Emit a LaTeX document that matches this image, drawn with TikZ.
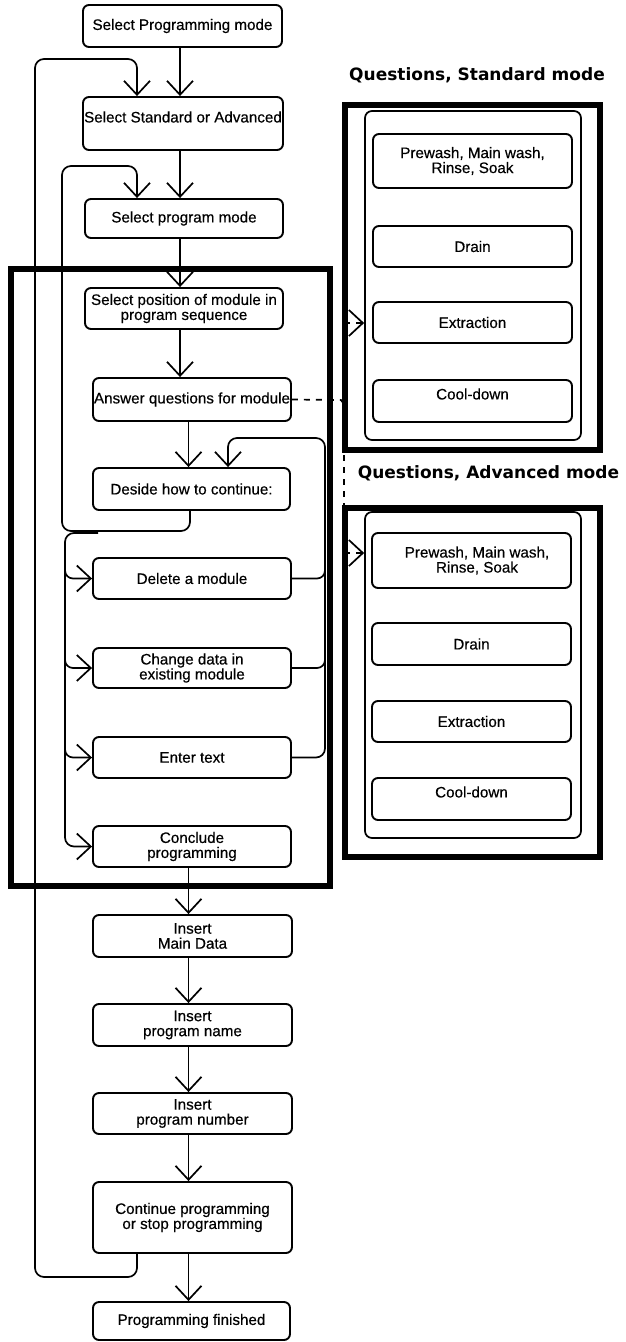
\documentclass[tikz,border=0pt]{standalone}
\usepackage{fontspec}
\setmainfont{Liberation Sans}
\newfontfamily\boxfont{Liberation Sans}[FakeBold=0.45]
\newfontfamily\titlefont{DejaVu Sans}
\usetikzlibrary{arrows.meta}
\begin{document}
\begin{tikzpicture}[x=1pt,y=-1pt,
  box/.style={draw, line width=1.9pt, rounded corners=6pt, align=center, inner sep=0pt, font=\boxfont\fontsize{15.2}{15}\selectfont},
  frame/.style={draw, line width=5.5pt, inner sep=0pt},
  innerbox/.style={draw, line width=1.7pt, rounded corners=7pt, inner sep=0pt},
  conn/.style={line width=1.7pt},
  arr/.style={conn, -{Straight Barb[length=14pt,width=26pt]}},
  dsh/.style={dash pattern=on 6pt off 6pt},
  ttl/.style={font=\titlefont\bfseries\fontsize{17}{20}\selectfont, inner sep=0pt},
  lbl/.style={align=center, inner sep=0pt, font=\boxfont\fontsize{15.2}{15}\selectfont}]
\fill[white] (0,0) rectangle (625,1342);
\useasboundingbox (0,0) rectangle (625,1342);

% big frame
\node[frame, minimum width=319pt, minimum height=617pt] (big) at (170.5,577.5) {};

% main column
\node[box, minimum width=199pt, minimum height=42pt] (b1) at (182.5,26) {Select Programming mode};
\node[box, minimum width=200pt, minimum height=53pt] (b2) at (183,123.5) {};
\node[lbl] (b2t) at (183,117) {Select Standard or Advanced};
\node[box, minimum width=198pt, minimum height=39pt] (b3) at (184,218.5) {Select program mode};
\node[box, minimum width=198pt, minimum height=41pt] (b4) at (184,308.5) {Select position of module in\\program sequence};
\node[box, minimum width=198pt, minimum height=43pt] (b5) at (192,399.5) {Answer questions for module};
\node[box, minimum width=197pt, minimum height=42pt] (b6) at (191.5,489) {Deside how to continue:};
\node[box, minimum width=198pt, minimum height=41pt] (b7) at (192,578.5) {Delete a module};
\node[box, minimum width=198pt, minimum height=40pt] (b8) at (192,668) {Change data in\\existing module};
\node[box, minimum width=198pt, minimum height=41pt] (b9) at (192,757.5) {Enter text};
\node[box, minimum width=198pt, minimum height=41pt] (b10) at (192,846.5) {Conclude\\programming};
\node[box, minimum width=199pt, minimum height=42pt] (b11) at (192.5,936) {Insert\\Main Data};
\node[box, minimum width=199pt, minimum height=42pt] (b12) at (192.5,1025) {Insert\\program name};
\node[box, minimum width=199pt, minimum height=41pt] (b13) at (192.5,1113.5) {Insert\\program number};
\node[box, minimum width=199pt, minimum height=71pt] (b14) at (192.5,1217.5) {Continue programming\\or stop programming};
\node[box, minimum width=197pt, minimum height=38pt] (b15) at (191.5,1321) {Programming finished};

% straight connectors
\coordinate (mA) at (180,0);
\coordinate (mB) at (188.5,0);
\draw[arr] (b1.south -| mA) -- (b2.north -| mA);
\draw[arr] (b2.south -| mA) -- (b3.north -| mA);
\draw[arr] (b3.south -| mA) -- (b4.north -| mA);
\draw[arr] (b4.south -| mA) -- (b5.north -| mA);
\draw[arr] (b5.south -| mB) -- (b6.north -| mB);
\draw[arr] (b10.south -| mB) -- (b11.north -| mB);
\draw[arr] (b11.south -| mB) -- (b12.north -| mB);
\draw[arr] (b12.south -| mB) -- (b13.north -| mB);
\draw[arr] (b13.south -| mB) -- (b14.north -| mB);
\draw[arr] (b14.south -| mB) -- (b15.north -| mB);

% outer loop
\coordinate (o1) at (137,1277);
\coordinate (o2) at (35,1277);
\coordinate (o3) at (35,59);
\coordinate (o4) at (137,59);
\draw[arr, rounded corners=9pt] (b14.south -| o1) -- (o1) -- (o2) -- (o3) -- (o4) -- (b2.north -| o4);

% inner loop
\coordinate (p1) at (190,531);
\coordinate (p2) at (62,531);
\coordinate (p3) at (62,166);
\coordinate (p4) at (137,166);
\draw[arr, rounded corners=9pt] (b6.south -| p1) -- (p1) -- (p2) -- (p3) -- (p4) -- (b3.north -| p4);

% branch to choices
\coordinate (r0) at (98,533);
\coordinate (r1) at (65,533);
\coordinate (r7) at (65,562);
\coordinate (r8) at (65,652);
\coordinate (r9) at (65,741);
\draw[arr, rounded corners=9pt] (r0) -- (r1) |- (b10.west);
\draw[arr, rounded corners=8pt] (r7) |- (b7.west);
\draw[arr, rounded corners=8pt] (r8) |- (b8.west);
\draw[arr, rounded corners=8pt] (r9) |- (b9.west);

% return loop on the right
\coordinate (s1) at (325,438);
\coordinate (s2) at (228,438);
\coordinate (s7) at (325,562);
\coordinate (s8) at (325,652);
\draw[arr, rounded corners=9pt] (b9.east) -| (s1) -- (s2) -- (b6.north -| s2);
\draw[conn, rounded corners=8pt] (b7.east) -| (s7);
\draw[conn, rounded corners=8pt] (b8.east) -| (s8);

% right side: standard mode
\node[ttl] (tS) at (477,75) {Questions, Standard mode};
\node[frame, minimum width=255pt, minimum height=345pt] (sF) at (472.5,277.5) {};
\node[innerbox, minimum width=216pt, minimum height=329pt] (sIn) at (473,275.5) {};
\node[box, minimum width=199pt, minimum height=54pt] (sP) at (472.5,161) {Prewash, Main wash,\\Rinse, Soak};
\node[box, minimum width=199pt, minimum height=41pt] (sD) at (472.5,246.5) {Drain};
\node[box, minimum width=199pt, minimum height=41pt] (sE) at (472.5,322.5) {Extraction};
\node[box, minimum width=199pt, minimum height=42pt] (sC) at (472.5,401) {};
\node[lbl] (sCt) at (472.5,394) {Cool-down};

% right side: advanced mode
\node[ttl] (tA) at (488.5,473) {Questions, Advanced mode};
\node[frame, minimum width=255pt, minimum height=349pt] (aF) at (472.5,682.5) {};
\node[innerbox, minimum width=216pt, minimum height=326pt] (aIn) at (473,675) {};
\node[box, minimum width=199pt, minimum height=55pt] (aP) at (471.5,560.5) {};
\node[lbl] (aPt) at (477,560.5) {Prewash, Main wash,\\Rinse, Soak};
\node[box, minimum width=199pt, minimum height=42pt] (aD) at (471.5,644) {Drain};
\node[box, minimum width=199pt, minimum height=41pt] (aE) at (471.5,721.5) {Extraction};
\node[box, minimum width=199pt, minimum height=42pt] (aC) at (471.5,799) {};
\node[lbl] (aCt) at (471.5,792) {Cool-down};

% dashed link
\coordinate (d1) at (341,400);
\coordinate (d2) at (344,404);
\coordinate (dS) at (344,323);
\coordinate (dA) at (344,553);
\draw[conn, dsh] (b5.east) -- (d1) -- (d2);
\draw[conn, dsh] (dS) -- (dA);
\draw[arr, dsh] (dS) -- (dS -| sIn.west);
\draw[arr, dsh] (dA) -- (dA -| aIn.west);
\end{tikzpicture}
\end{document}
